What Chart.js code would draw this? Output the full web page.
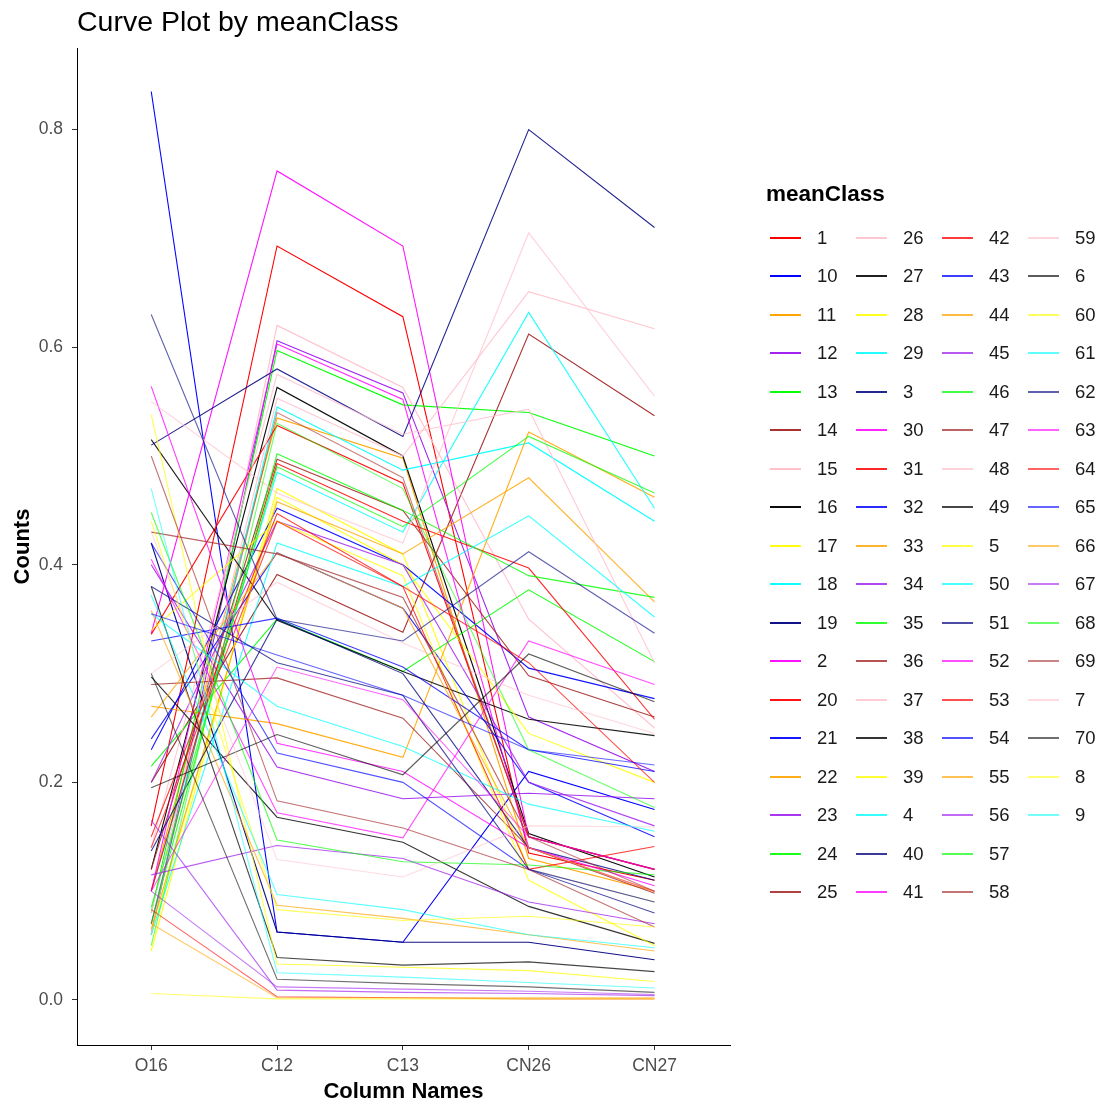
<!DOCTYPE html>
<html>
<head>
<meta charset="utf-8">
<script src="https://cdn.jsdelivr.net/npm/chart.js@4.4.1/dist/chart.umd.min.js"></script>
<style>
  body { margin: 0; background: #fff; font-family: "Liberation Sans", Arial, sans-serif; }
  #wrap { position: relative; width: 1101px; height: 1105px; }
  #box { position: absolute; left: 0; top: 0; width: 1101px; height: 1105px; }
  #title { position: absolute; left: 77px; top: 5px; font-size: 28.5px; color: #000; white-space: nowrap; }
  #legend-title { position: absolute; left: 766px; top: 181px; font-size: 22.5px; font-weight: bold; color: #000; }
  .key { position: absolute; width: 31px; height: 2px; }
  .lab { position: absolute; font-size: 18.5px; color: #1a1a1a; line-height: 22px; }
</style>
</head>
<body>
<div id="wrap">
  <div id="box"><canvas id="chart"></canvas></div>
  <div id="title">Curve Plot by meanClass</div>
  <div id="legend-title">meanClass</div>
  <div id="legend"></div>
</div>
<script>
// columns on the x axis
const columns = ['O16', 'C12', 'C13', 'CN26', 'CN27'];

// meanClass levels, in legend (factor) order
const classes = ['1','10','11','12','13','14','15','16','17','18','19','2','20','21','22','23','24','25',
                 '26','27','28','29','3','30','31','32','33','34','35','36','37','38','39','4','40','41',
                 '42','43','44','45','46','47','48','49','5','50','51','52','53','54','55','56','57','58',
                 '59','6','60','61','62','63','64','65','66','67','68','69','7','70','8','9'];

// one value per class, same order as classes
const valuesO16 = [0.16, 0.835, 0.10, 0.06, 0.08, 0.20, 0.06, 0.12, 0.045, 0.07,
                   0.42, 0.337, 0.336, 0.23, 0.27, 0.40, 0.215, 0.12, 0.08, 0.515,
                   0.06, 0.10, 0.51, 0.10, 0.10, 0.24, 0.065, 0.20, 0.07, 0.29,
                   0.14, 0.297, 0.34, 0.06, 0.137, 0.564, 0.15, 0.33, 0.26, 0.115,
                   0.085, 0.43, 0.55, 0.38, 0.538, 0.355, 0.38, 0.405, 0.14, 0.42,
                   0.358, 0.165, 0.448, 0.50, 0.30, 0.195, 0.44, 0.372, 0.63, 0.10,
                   0.083, 0.355, 0.07, 0.10, 0.05, 0.07, 0.43, 0.30, 0.006, 0.47];
const valuesC12 = [0.693, 0.0625, 0.535, 0.606, 0.597, 0.391, 0.62, 0.563, 0.47, 0.545,
                   0.0625, 0.762, 0.528, 0.452, 0.254, 0.214, 0.35, 0.497, 0.553, 0.349,
                   0.462, 0.485, 0.58, 0.603, 0.493, 0.411, 0.458, 0.44, 0.502, 0.296,
                   0.575, 0.168, 0.44, 0.42, 0.35, 0.236, 0.447, 0.351, 0.411, 0.142,
                   0.49, 0.41, 0.466, 0.039, 0.033, 0.27, 0.31, 0.172, 0.44, 0.227,
                   0.087, 0.009, 0.147, 0.183, 0.384, 0.244, 0.083, 0.097, 0.35, 0.306,
                   0.003, 0.317, 0.002, 0.012, 0.53, 0.54, 0.129, 0.019, 0.001, 0.025];
const valuesC13 = [0.628, 0.053, 0.498, 0.558, 0.547, 0.338, 0.563, 0.50, 0.41, 0.487,
                   0.053, 0.693, 0.475, 0.40, 0.223, 0.185, 0.302, 0.45, 0.50, 0.302,
                   0.40, 0.43, 0.518, 0.552, 0.44, 0.36, 0.41, 0.40, 0.45, 0.259,
                   0.52, 0.145, 0.39, 0.38, 0.30, 0.21, 0.38, 0.306, 0.36, 0.13,
                   0.435, 0.37, 0.42, 0.032, 0.03, 0.233, 0.28, 0.149, 0.38, 0.20,
                   0.075, 0.007, 0.127, 0.158, 0.328, 0.207, 0.073, 0.083, 0.33, 0.276,
                   0.002, 0.28, 0.002, 0.01, 0.47, 0.48, 0.113, 0.015, 0.001, 0.021];
const valuesCN26 = [0.135, 0.21, 0.13, 0.26, 0.54, 0.612, 0.35, 0.153, 0.12, 0.512,
                    0.053, 0.15, 0.15, 0.305, 0.522, 0.19, 0.377, 0.298, 0.651, 0.258,
                    0.245, 0.632, 0.80, 0.14, 0.397, 0.20, 0.48, 0.20, 0.39, 0.14,
                    0.543, 0.086, 0.11, 0.445, 0.14, 0.14, 0.12, 0.23, 0.14, 0.09,
                    0.518, 0.15, 0.705, 0.035, 0.027, 0.18, 0.12, 0.33, 0.31, 0.12,
                    0.06, 0.006, 0.124, 0.12, 0.28, 0.318, 0.077, 0.06, 0.412, 0.15,
                    0.001, 0.23, 0.002, 0.008, 0.23, 0.15, 0.16, 0.012, 0.001, 0.016];
const valuesCN27 = [0.11, 0.175, 0.10, 0.21, 0.50, 0.537, 0.25, 0.113, 0.09, 0.44,
                    0.037, 0.12, 0.12, 0.277, 0.462, 0.185, 0.311, 0.26, 0.617, 0.243,
                    0.20, 0.452, 0.71, 0.10, 0.258, 0.15, 0.366, 0.16, 0.37, 0.098,
                    0.31, 0.052, 0.05, 0.352, 0.11, 0.105, 0.141, 0.21, 0.10, 0.07,
                    0.466, 0.12, 0.555, 0.026, 0.017, 0.155, 0.08, 0.29, 0.20, 0.09,
                    0.045, 0.004, 0.115, 0.067, 0.245, 0.274, 0.067, 0.048, 0.337, 0.12,
                    0.001, 0.216, 0.002, 0.005, 0.177, 0.10, 0.159, 0.007, 0.001, 0.011];

const yTicks = [0.0, 0.2, 0.4, 0.6, 0.8];

// colour cycle used by the plot
const palette = [[255,0,0],[0,0,255],[255,165,0],[160,32,240],[0,255,0],[165,42,42],
                 [255,192,203],[0,0,0],[255,255,0],[0,255,255],[0,0,128],[255,0,255]];

function colourFor(i) {
  const c = palette[i % palette.length];
  const a = 1 - 0.45 * i / (classes.length - 1);
  return `rgba(${c[0]},${c[1]},${c[2]},${a.toFixed(3)})`;
}

const columnValues = [valuesO16, valuesC12, valuesC13, valuesCN26, valuesCN27];

const datasets = classes.map((name, i) => ({
  label: name,
  data: columns.map((_, j) => ({ x: j, y: columnValues[j][i] })),
  borderColor: colourFor(i),
  backgroundColor: colourFor(i),
  borderWidth: 1.1,
  pointRadius: 0,
  tension: 0,
  fill: false,
  order: classes.length - i
}));

const tickFont = { family: '"Liberation Sans", Arial, sans-serif', size: 17.5 };
const axisTitleFont = { family: '"Liberation Sans", Arial, sans-serif', size: 22, weight: 'bold' };

new Chart(document.getElementById('chart').getContext('2d'), {
  type: 'line',
  data: { datasets },
  options: {
    responsive: true,
    maintainAspectRatio: false,
    animation: false,
    layout: { padding: { top: 48, right: 371, left: 0, bottom: 0 } },
    plugins: { legend: { display: false }, tooltip: { enabled: false } },
    scales: {
      x: {
        type: 'linear',
        min: -0.59,
        max: 4.6,
        afterBuildTicks: s => { s.ticks = columns.map((_, j) => ({ value: j })); },
        afterFit: s => { s.height = 60; },
        ticks: {
          callback: v => columns[v],
          font: tickFont,
          color: '#4d4d4d',
          padding: 6,
          maxRotation: 0
        },
        grid: { drawOnChartArea: false, drawTicks: true, tickLength: 5, color: '#333' },
        border: { display: true, color: '#000', width: 1 },
        title: { display: true, text: 'Column Names', font: axisTitleFont, color: '#000', padding: { top: 0, bottom: 0 } }
      },
      y: {
        min: -0.0414,
        max: 0.875,
        afterBuildTicks: s => { s.ticks = yTicks.map(v => ({ value: v })); },
        afterFit: s => { s.width = 77; },
        ticks: {
          callback: v => v.toFixed(1),
          font: tickFont,
          color: '#4d4d4d',
          padding: 9
        },
        grid: { drawOnChartArea: false, drawTicks: true, tickLength: 5, color: '#333' },
        border: { display: true, color: '#000', width: 1 },
        title: { display: true, text: 'Counts', font: axisTitleFont, color: '#000', padding: { top: 10, bottom: 0 } }
      }
    }
  }
});

/* --------- legend --------- */
const legend = document.getElementById('legend');
const perColumn = 18;
classes.forEach((name, i) => {
  const col = Math.floor(i / perColumn);
  const row = i % perColumn;
  const y = 237.5 + row * 38.5;
  const key = document.createElement('div');
  key.className = 'key';
  key.style.left = (770 + col * 86) + 'px';
  key.style.top = (Math.round(y) - 1) + 'px';
  key.style.backgroundColor = colourFor(i);
  legend.appendChild(key);
  const lab = document.createElement('div');
  lab.className = 'lab';
  lab.style.left = (817 + col * 86) + 'px';
  lab.style.top = (y - 11) + 'px';
  lab.textContent = name;
  legend.appendChild(lab);
});
</script>
</body>
</html>
